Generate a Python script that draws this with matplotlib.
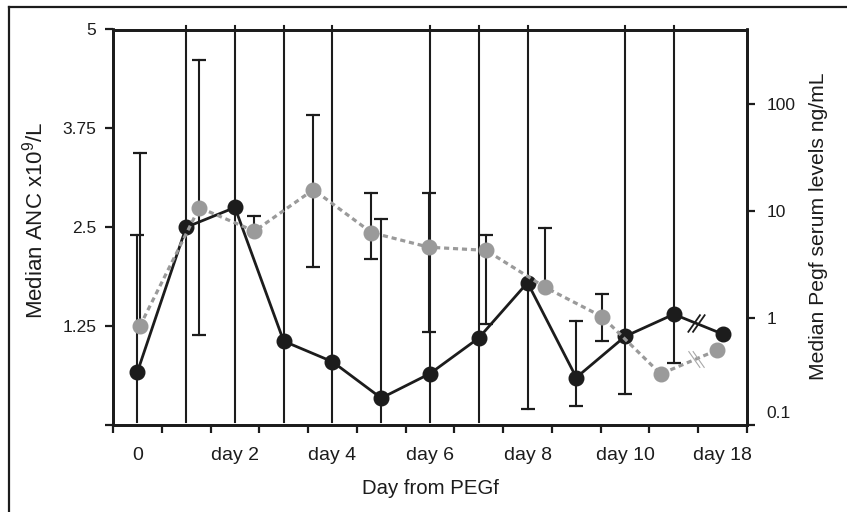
"""Median ANC and PEGf serum levels by day from PEGf."""

import matplotlib

matplotlib.use("Agg")

import matplotlib.pyplot as plt
import numpy as np
from matplotlib.lines import Line2D
from matplotlib.path import Path
from matplotlib.ticker import FixedLocator, NullFormatter, NullLocator

# Day slots on the x axis (one per category, the last slot is day 18 after a break)
DAY_SLOTS = ["0", "1", "2", "3", "4", "5", "6", "7", "8", "9", "10", "11", "18"]
DAY_TICK_LABELS = ["0", "day 2", "day 4", "day 6", "day 8", "day 10", "day 18"]

# Median ANC (x10^9/L), black series, left axis
ANC_MEDIAN = [0.67, 2.50, 2.75, 1.06, 0.80, 0.34, 0.65, 1.10, 1.80, 0.60, 1.12, 1.40, 1.15]
ANC_LOW = [0.04, 0.04, 0.04, 0.04, 0.04, 0.04, 0.04, 0.04, 0.20, 0.24, 0.39, 0.79, None]
ANC_HIGH = [2.40, 5.04, 5.04, 5.04, 5.04, 2.61, 5.04, 5.04, 5.04, 1.31, 5.04, 5.04, None]

# Median PEGf serum level (ng/mL), grey series, right log axis
PEGF_X = [0.55, 1.77, 2.90, 4.11, 5.30, 6.48, 7.65, 8.86, 10.03, 11.23, 12.38]
PEGF_MEDIAN = [0.84, 10.8, 6.5, 15.9, 6.3, 4.6, 4.3, 1.94, 1.03, 0.30, 0.50]
PEGF_LOW = [None, 0.69, None, 3.02, 3.56, 0.745, 0.88, None, 0.61, None, None]
PEGF_HIGH = [34.8, 262.0, 9.0, 80.0, 14.8, 14.8, 5.97, 6.98, 1.68, None, None]

ANC_LIM = (0, 5)
PEGF_LIM = (0.1, 500)
BREAK_X = 11.95

INK = "#1c1c1c"
GREY = "#9a9a9a"

plt.rcParams["font.family"] = ["Liberation Sans", "DejaVu Sans"]
plt.rcParams["mathtext.fontset"] = "custom"
plt.rcParams["mathtext.rm"] = "Liberation Sans"
plt.rcParams["mathtext.it"] = "Liberation Sans:italic"


def _draw_ranges(ax, xs, mids, lows, highs, cap_min, cap_max):
    """Vertical range lines, capped only where the end sits inside the axis."""

    for x, mid, lo, hi in zip(xs, mids, lows, highs):
        if lo is None and hi is None:
            continue
        y0 = mid if lo is None else lo
        y1 = mid if hi is None else hi
        ax.plot([x, x], [y0, y1], color=INK, lw=1.5, clip_on=False, zorder=2)
        for end in (lo, hi):
            if end is not None and cap_min < end < cap_max:
                ax.plot(x, end, marker="_", ms=9.5, mew=1.6, color=INK, zorder=2)


def _slash_marker(direction):
    """Two parallel strokes used to mark the axis break on a line."""

    s = direction
    verts = [(-0.48, -0.5 * s), (0.22, 0.5 * s), (-0.22, -0.5 * s), (0.48, 0.5 * s)]
    codes = [Path.MOVETO, Path.LINETO, Path.MOVETO, Path.LINETO]
    return Path(verts, codes)


fig = plt.figure(figsize=(8.47, 5.12), dpi=100)
ax = fig.add_axes([113 / 847, 1 - 425 / 512, 634 / 847, 395.5 / 512])
ax2 = ax.twinx()

x_anc = np.arange(len(DAY_SLOTS)) + 0.5

# ANC series
_draw_ranges(ax, x_anc, ANC_MEDIAN, ANC_LOW, ANC_HIGH, 0.1, ANC_LIM[1])
ax.plot(x_anc, ANC_MEDIAN, color=INK, lw=2.0, marker="o", ms=10.5,
        mfc=INK, mec=INK, zorder=3)

# PEGf series
_draw_ranges(ax2, PEGF_X, PEGF_MEDIAN, PEGF_LOW, PEGF_HIGH, 0.12, PEGF_LIM[1])
ax2.plot(PEGF_X, PEGF_MEDIAN, color=GREY, lw=2.3, dashes=(1.6, 1.2), marker="o",
         ms=10.5, mfc=GREY, mec=GREY, zorder=3)

# break marks between day 11 and day 18
anc_break = np.interp(BREAK_X, x_anc, ANC_MEDIAN)
pegf_break = 10 ** np.interp(BREAK_X, PEGF_X, np.log10(PEGF_MEDIAN))
ax.plot(BREAK_X, anc_break, marker=_slash_marker(1), ms=13, mew=1.3,
        mec=INK, mfc="none", zorder=4)
ax2.plot(BREAK_X, pegf_break, marker=_slash_marker(-1), ms=12, mew=0.8,
         mec="#a8a8a8", mfc="none", zorder=4)

# left axis
ax.set_xlim(0, len(DAY_SLOTS))
ax.set_ylim(*ANC_LIM)
ax.set_yticks([0, 1.25, 2.5, 3.75, 5])
ax.set_yticklabels(["", "1.25", "2.5", "3.75", "5"])
ax.tick_params(axis="y", direction="out", length=6, width=1.6, pad=6,
               labelsize=12.5, colors=INK)

# x axis: ticks between slots, labels centred on every other slot
ax.xaxis.set_major_locator(FixedLocator(np.arange(len(DAY_SLOTS) + 1)))
ax.xaxis.set_major_formatter(NullFormatter())
ax.xaxis.set_minor_locator(FixedLocator(x_anc[::2]))
ax.set_xticklabels(DAY_TICK_LABELS, minor=True)
ax.tick_params(axis="x", which="major", direction="out", length=5.5, width=1.6,
               colors=INK)
ax.tick_params(axis="x", which="minor", length=0, pad=16, labelsize=14,
               colors=INK)

# right axis (log)
ax2.set_yscale("log")
ax2.set_ylim(*PEGF_LIM)
ax2.yaxis.set_major_locator(FixedLocator([0.1, 1, 10, 100]))
ax2.yaxis.set_minor_locator(NullLocator())
ax2.set_yticklabels(["", "1", "10", "100"])
ax2.tick_params(axis="y", direction="out", length=6, width=1.6, pad=8,
                labelsize=12.5, colors=INK)
ax2.annotate("0.1", xy=(1, 0.1), xycoords=("axes fraction", "data"),
             xytext=(14, 8), textcoords="offset points", ha="left", va="center",
             fontsize=12.5, color=INK)

for a in (ax, ax2):
    for spine in a.spines.values():
        spine.set_linewidth(2.0)
        spine.set_color(INK)

ax.set_xlabel("Day from PEGf", fontsize=14.7, color=INK, va="center")
ax.xaxis.set_label_coords(0.5, -0.16)
ax.set_ylabel("Median ANC x10$^{9}$/L", fontsize=16, color=INK, va="center")
ax.yaxis.set_label_coords(-0.123, 0.518)
ax2.set_ylabel("Median Pegf serum levels ng/mL", fontsize=15.2, color=INK,
               va="center", rotation=90)
ax2.yaxis.set_label_coords(1.112, 0.503)

# frame around the panel (only top and left edges survive the crop)
fig.add_artist(Line2D([8.5 / 847, 1], [1 - 7 / 512, 1 - 7 / 512],
                      transform=fig.transFigure, color=INK, lw=1.6))
fig.add_artist(Line2D([8.5 / 847, 8.5 / 847], [0, 1 - 7 / 512],
                      transform=fig.transFigure, color=INK, lw=1.6))

fig.savefig("out.png", dpi=100)
